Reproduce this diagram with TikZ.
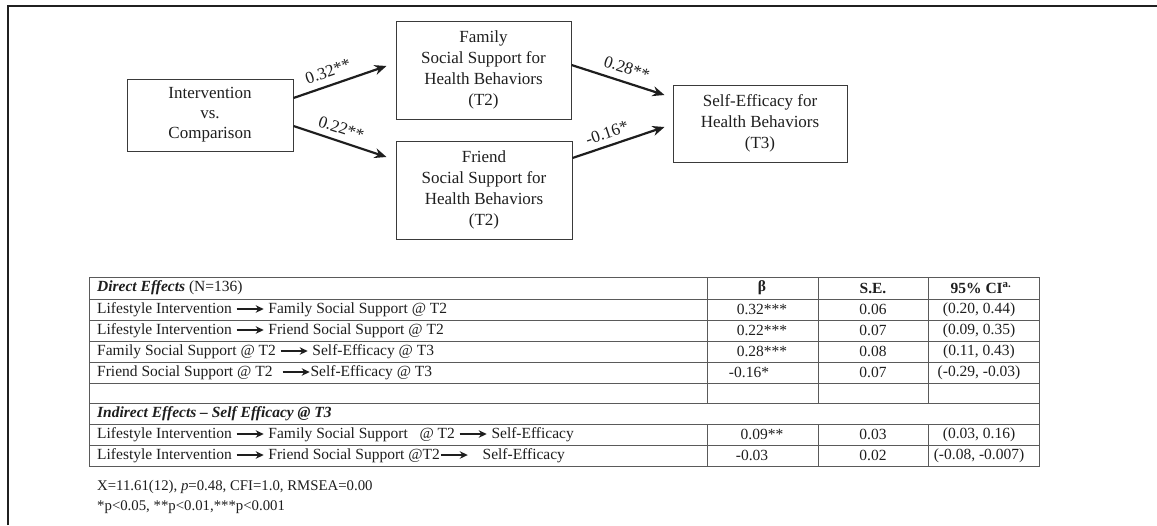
\documentclass[tikz,border=0pt]{standalone}
\usepackage{fontspec}
\setmainfont{Liberation Serif}
\usetikzlibrary{arrows.meta}
\definecolor{inkc}{HTML}{1E1E1E}
\definecolor{boxc}{HTML}{3A3A3A}
\definecolor{rulec}{HTML}{5A5A5A}
\definecolor{framec}{HTML}{202020}
\newcommand{\tarr}{\tikz[baseline=-0.6ex]\draw[inkc,line width=1.8pt,-{Stealth[length=8pt,width=7.5pt]}] (0,0)--(27pt,0);}
\tikzset{
  diagbox/.style={draw=boxc, line width=1pt, align=center, inner sep=0pt, text=inkc,
    font=\fontsize{17}{21}\selectfont},
  patharr/.style={draw=inkc, line width=2.2pt, -{Stealth[length=12pt,width=10pt]}},
  coef/.style={sloped, inner sep=1pt, text=inkc, font=\fontsize{17}{18}\selectfont},
  tcell/.style={inner sep=0pt, text=inkc, font=\fontsize{15.5}{18}\selectfont},
  trule/.style={draw=rulec, line width=0.9pt},
  note/.style={inner sep=0pt, anchor=west, text=inkc, font=\fontsize{14.8}{18}\selectfont}
}
\begin{document}
\begin{tikzpicture}[x=1pt,y=-1pt]
\useasboundingbox (0,0) rectangle (1157,525);
% frame
\draw[framec, line width=1.8pt] (8,525) -- (8,6) -- (1157,6);

% diagram
\node[diagbox, minimum width=166pt, minimum height=72pt] (iv) at (210,115)
  {Intervention\\[-1pt] vs.\\[-1pt] Comparison};
\node[diagbox, minimum width=175pt, minimum height=98pt] (fam) at (483.5,70)
  {Family\\ Social Support for\\ Health Behaviors\\ (T2)};
\node[diagbox, minimum width=176pt, minimum height=98pt] (fri) at (484,190)
  {Friend\\ Social Support for\\ Health Behaviors\\ (T2)};
\node[diagbox, minimum width=174pt, minimum height=77pt] (se) at (760,123.5)
  {Self-Efficacy for\\ Health Behaviors\\ (T3)};

\draw[patharr] ([yshift=17pt]iv.east) -- ([xshift=-9pt,yshift=4pt]fam.west)
  node[coef, pos=0.42, above=6pt] {0.32**};
\draw[patharr] ([yshift=-11pt]iv.east) -- ([xshift=-9pt,yshift=33pt]fri.west)
  node[coef, pos=0.47, above=5pt] {0.22**};
\draw[patharr] ([yshift=5pt]fam.east) -- ([xshift=-8pt,yshift=28.5pt]se.west)
  node[coef, pos=0.55, above=6pt] {0.28**};
\draw[patharr] ([yshift=32pt]fri.east) -- ([xshift=-8pt,yshift=-3.5pt]se.west)
  node[coef, pos=0.42, above=5pt] {-0.16*};

% table rules
\draw[trule] (89,277) rectangle (1039,466);
\foreach \yy in {299,320,341,362,383,403,424,445} \draw[trule] (89,\yy) -- (1039,\yy);
\foreach \xx in {707,818,928} {
  \draw[trule] (\xx,277) -- (\xx,403);
  \draw[trule] (\xx,424) -- (\xx,466);
}

% header row
\node[tcell, anchor=west] (h0) at (97,288) {\textbf{\textit{Direct Effects}} (N=136)};
\node[tcell] (h1) at (762,288) {\textbf{β}};
\node[tcell] (h2) at (873,288) {\textbf{S.E.}};
\node[tcell] (h3) at (981,288) {\textbf{95\% CI\textsuperscript{a.}}};

% direct effects
\node[tcell, anchor=west] (r1a) at (97,309.5) {Lifestyle Intervention \tarr{} Family Social Support @ T2};
\node[tcell] (r1b) at (762,309.5) {0.32***};
\node[tcell] (r1c) at (873,309.5) {0.06};
\node[tcell] (r1d) at (979,309.5) {(0.20, 0.44)};

\node[tcell, anchor=west] (r2a) at (97,330.5) {Lifestyle Intervention \tarr{} Friend Social Support @ T2};
\node[tcell] (r2b) at (762,330.5) {0.22***};
\node[tcell] (r2c) at (873,330.5) {0.07};
\node[tcell] (r2d) at (979,330.5) {(0.09, 0.35)};

\node[tcell, anchor=west] (r3a) at (97,351.5) {Family Social Support @ T2 \tarr{} Self-Efficacy @ T3};
\node[tcell] (r3b) at (762,351.5) {0.28***};
\node[tcell] (r3c) at (873,351.5) {0.08};
\node[tcell] (r3d) at (979,351.5) {(0.11, 0.43)};

\node[tcell, anchor=west] (r4a) at (97,372.5) {Friend Social Support @ T2\hspace{0.6em}\tarr{}Self-Efficacy @ T3};
\node[tcell] (r4b) at (749,372.5) {-0.16*};
\node[tcell] (r4c) at (873,372.5) {0.07};
\node[tcell] (r4d) at (979,372.5) {(-0.29, -0.03)};

% indirect effects
\node[tcell, anchor=west] (i0) at (97,413.5) {\textbf{\textit{Indirect Effects – Self Efficacy @ T3}}};

\node[tcell, anchor=west] (i1a) at (97,434.5) {Lifestyle Intervention \tarr{} Family Social Support\hspace{0.5em} @ T2 \tarr{} Self-Efficacy};
\node[tcell] (i1b) at (762,434.5) {0.09**};
\node[tcell] (i1c) at (873,434.5) {0.03};
\node[tcell] (i1d) at (979,434.5) {(0.03, 0.16)};

\node[tcell, anchor=west] (i2a) at (97,455.5) {Lifestyle Intervention \tarr{} Friend Social Support @T2\tarr{}\hspace{0.9em}Self-Efficacy};
\node[tcell] (i2b) at (752,455.5) {-0.03};
\node[tcell] (i2c) at (873,455.5) {0.02};
\node[tcell] (i2d) at (979,455.5) {(-0.08, -0.007)};

% notes
\node[note] (n1) at (97,487) {X=11.61(12), \textit{p}=0.48, CFI=1.0, RMSEA=0.00};
\node[note] (n2) at (97,507) {*p<0.05, **p<0.01,***p<0.001};
\end{tikzpicture}
\end{document}
